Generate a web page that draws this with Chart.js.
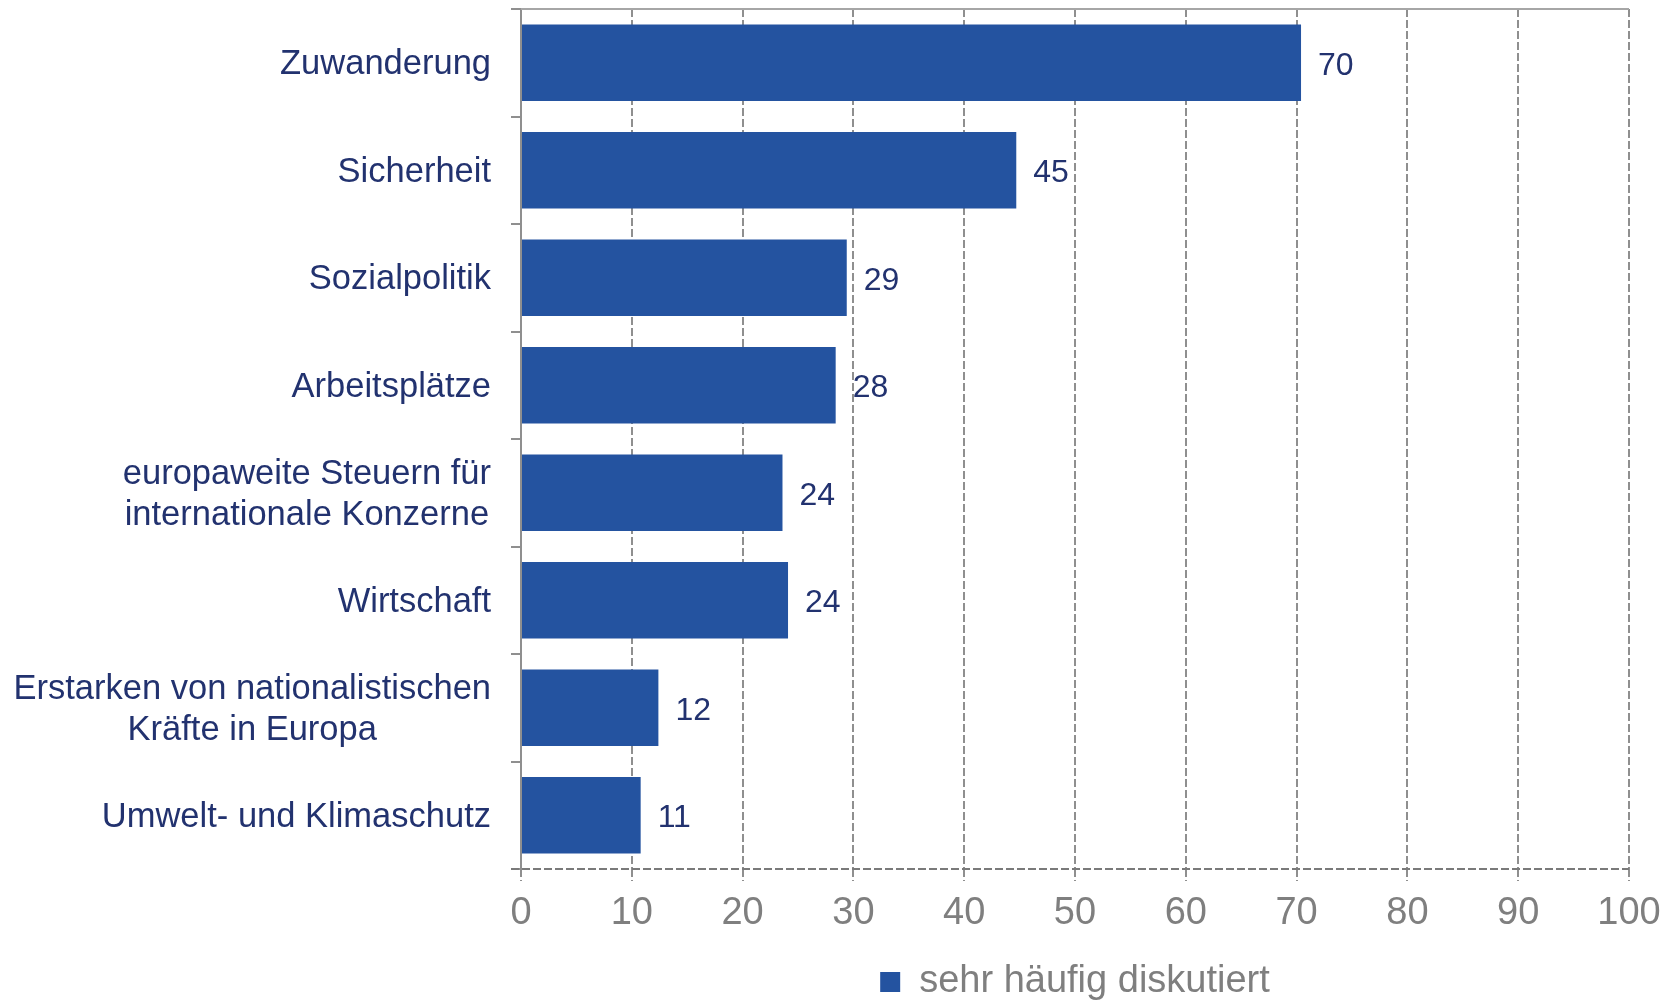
<!DOCTYPE html>
<html>
<head>
<meta charset="utf-8">
<script src="https://cdn.jsdelivr.net/npm/chart.js@4.4.1/dist/chart.umd.min.js"></script>
<style>
  body { margin: 0; background: #fff; }
  #wrap { width: 1680px; height: 1000px; }
</style>
</head>
<body>
<div id="wrap"><canvas id="chart" width="1680" height="1000"></canvas></div>
<script>
const categories = [
    'Zuwanderung',
    'Sicherheit',
    'Sozialpolitik',
    'Arbeitsplätze',
    ['europaweite Steuern für', 'internationale Konzerne'],
    'Wirtschaft',
    ['Erstarken von nationalistischen', 'Kräfte in Europa'],
    'Umwelt- und Klimaschutz'
];
const values = [70.4, 44.7, 29.4, 28.4, 23.6, 24.1, 12.4, 10.8];
const seriesName = 'sehr häufig diskutiert';
const xTicks = [0, 10, 20, 30, 40, 50, 60, 70, 80, 90, 100];

const FONT = '"Liberation Sans", Arial, sans-serif';
const NAVY = '#22326f';
const BAR = '#2453a0';
const GRAY = '#7f7f7f';
const LINE = '#8f8f8f';

// value labels, category labels (lines centred, block right aligned), top and bottom frame lines
const extras = {
    id: 'extras',
    afterDatasetsDraw(chart) {
        const ctx = chart.ctx;
        const meta = chart.getDatasetMeta(0);
        ctx.save();
        ctx.font = '32px ' + FONT;
        ctx.fillStyle = NAVY;
        ctx.textAlign = 'left';
        ctx.textBaseline = 'middle';
        meta.data.forEach((bar, i) => {
            ctx.fillText(String(Math.round(values[i])), bar.x + 17, bar.y + 3);
        });
        ctx.restore();
    },
    afterDraw(chart) {
        const ctx = chart.ctx;
        const yScale = chart.scales.y;
        const area = chart.chartArea;
        ctx.save();
        ctx.strokeStyle = '#a6a6a6';
        ctx.lineWidth = 2;
        ctx.beginPath();
        ctx.moveTo(area.left, area.top);
        ctx.lineTo(area.right, area.top);
        ctx.stroke();

        ctx.strokeStyle = '#7a7a7a';
        ctx.setLineDash([8, 3]);
        ctx.beginPath();
        ctx.moveTo(area.left - 10, area.bottom);
        ctx.lineTo(area.right, area.bottom);
        ctx.stroke();
        ctx.setLineDash([]);

        ctx.font = '34.5px ' + FONT;
        ctx.fillStyle = NAVY;
        ctx.textAlign = 'center';
        ctx.textBaseline = 'middle';
        const rightX = area.left - 30;
        const lineH = 41;
        categories.forEach((lab, i) => {
            const lines = Array.isArray(lab) ? lab : [lab];
            const w = Math.max(...lines.map(l => ctx.measureText(l).width));
            const cx = rightX - w / 2;
            const yc = yScale.getPixelForValue(i) + 2;
            lines.forEach((l, j) => {
                ctx.fillText(l, cx, yc + (j - (lines.length - 1) / 2) * lineH);
            });
        });
        ctx.restore();
    }
};

new Chart(document.getElementById('chart').getContext('2d'), {
    type: 'bar',
    data: {
        labels: categories,
        datasets: [{
            label: seriesName,
            data: values,
            backgroundColor: BAR,
            borderWidth: 0,
            categoryPercentage: 1,
            barPercentage: 0.71
        }]
    },
    options: {
        indexAxis: 'y',
        responsive: false,
        animation: false,
        layout: { padding: { top: 9, right: 51, left: 0, bottom: -11 } },
        scales: {
            x: {
                min: 0,
                max: 100,
                afterBuildTicks(scale) {
                    scale.ticks = xTicks.map(v => ({ value: v }));
                },
                afterFit(scale) { scale.height = 94; },
                grid: {
                    color: LINE,
                    lineWidth: 2,
                    tickLength: 12,
                    tickBorderDash: [8, 3],
                    drawOnChartArea: true
                },
                border: { display: false, color: LINE, width: 2, dash: [8, 3] },
                ticks: {
                    color: GRAY,
                    padding: 10,
                    font: { family: FONT, size: 38 }
                }
            },
            y: {
                afterFit(scale) { scale.width = 521; },
                grid: {
                    offset: true,
                    drawOnChartArea: false,
                    color: LINE,
                    lineWidth: 2,
                    tickLength: 10
                },
                border: { display: true, color: LINE, width: 2 },
                ticks: {
                    callback: () => '',
                    padding: 0
                }
            }
        },
        plugins: {
            legend: {
                position: 'bottom',
                fullSize: false,
                labels: {
                    color: GRAY,
                    boxWidth: 20,
                    boxHeight: 20,
                    padding: 0,
                    font: { family: FONT, size: 38 }
                }
            },
            tooltip: { enabled: false }
        }
    },
    plugins: [extras]
});
</script>
</body>
</html>
